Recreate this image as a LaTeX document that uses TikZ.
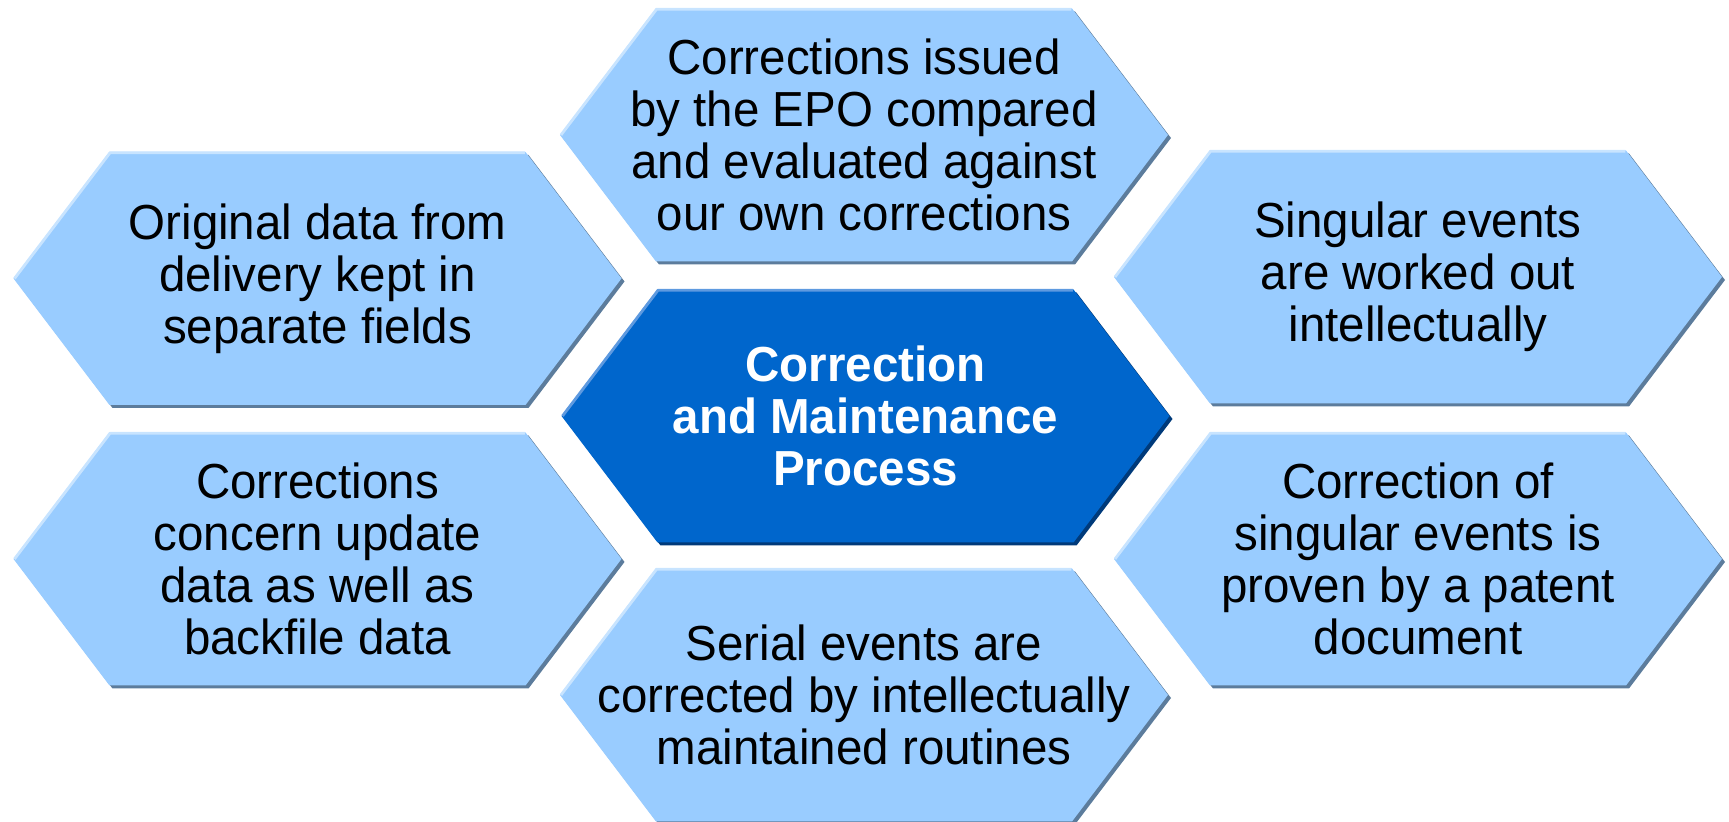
\documentclass[tikz,border=0pt]{standalone}
\usepackage{fontspec}
\setmainfont[FakeStretch=0.965]{Liberation Sans}
\definecolor{hexfill}{HTML}{99CCFF}
\definecolor{hexshadow}{HTML}{5C7C9C}
\definecolor{hexlight}{HTML}{C8E4FF}
\definecolor{corefill}{HTML}{0066CC}
\definecolor{coreshadow}{HTML}{003A7A}
\definecolor{corelight}{HTML}{5E9AE0}
\tikzset{
  hextext/.style={align=center, inner sep=0pt, text=black, font=\fontsize{14}{14.8}\selectfont},
  coretext/.style={align=center, inner sep=0pt, text=white, font=\fontsize{14}{14.8}\selectfont\bfseries},
}
\newcommand\hexa[8]{%
  \begin{scope}[shift={(#2,#3)}]
    \fill[#5] (-301,3) -- (-205,-123.5) -- (211,-123.5) -- (307,3) -- (211,129.5) -- (-205,129.5) -- cycle;
    \fill[#4] (-304,0) -- (-208,-126.5) -- (208,-126.5) -- (304,0) -- (208,126.5) -- (-208,126.5) -- cycle;
    \draw[#6, line width=0.8pt, line join=round] (-303,0) -- (-207.4,-125.8) -- (207.4,-125.8);
    \node[#7] (#1) at (0,0) {#8};
  \end{scope}}
\begin{document}
\begin{tikzpicture}[x=0.01cm,y=-0.01cm]
\useasboundingbox (0,0) rectangle (1729,822);
\hexa{orig}{317.5}{278.5}{hexfill}{hexshadow}{hexlight}{hextext}{Original data from\\delivery kept in\\separate fields}
\hexa{epo}{864}{135}{hexfill}{hexshadow}{hexlight}{hextext}{Corrections issued\\by the EPO compared\\and evaluated against\\our own corrections}
\hexa{singular}{1418}{277}{hexfill}{hexshadow}{hexlight}{hextext}{Singular events\\are worked out\\intellectually}
\hexa{concern}{317.5}{559}{hexfill}{hexshadow}{hexlight}{hextext}{Corrections\\concern update\\data as well as\\backfile data}
\hexa{serial}{864}{695}{hexfill}{hexshadow}{hexlight}{hextext}{Serial events are\\corrected by intellectually\\maintained routines}
\hexa{proven}{1418}{559}{hexfill}{hexshadow}{hexlight}{hextext}{Correction of\\singular events is\\proven by a patent\\document}
\hexa{core}{865.5}{416}{corefill}{coreshadow}{corelight}{coretext}{Correction\\and Maintenance\\Process}
\end{tikzpicture}
\end{document}
